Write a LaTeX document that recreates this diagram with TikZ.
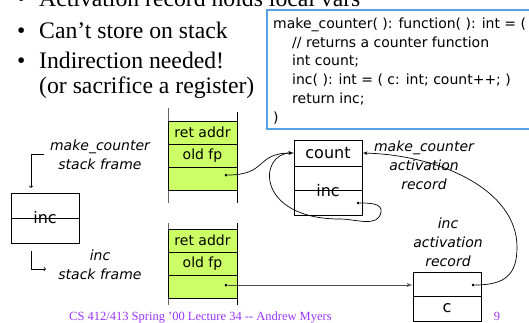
\documentclass[tikz,border=0pt]{standalone}
\usepackage{fontspec}
\setmainfont{Liberation Serif}
\setsansfont{DejaVu Sans}
\usepackage{tikz}
\usetikzlibrary{calc, shapes, arrows}
\definecolor{framegreen}{RGB}{204,255,102}
\definecolor{codeblue}{RGB}{85,160,230}
\definecolor{footpurple}{RGB}{153,51,255}

\begin{document}
\begin{tikzpicture}[x=1pt,y=-1pt]
\tikzstyle{line} = [draw, -latex', line width=0.7pt]
\tikzstyle{elbow} = [draw, ->, line width=0.7pt]
\tikzstyle{cell} = [rectangle, draw, line width=0.8pt, fill=framegreen, minimum width=69pt, minimum height=23pt, inner sep=0pt, font=\sffamily\fontsize{14}{16}\selectfont]
\tikzstyle{record} = [rectangle, draw, line width=0.8pt, fill=white, minimum width=68pt, inner sep=0pt, font=\sffamily\fontsize{16}{18}\selectfont]
\tikzstyle{tag} = [align=center, inner sep=0pt, font=\sffamily\itshape\fontsize{14}{19}\selectfont]
\tikzstyle{ptr} = [circle, fill, inner sep=0pt, minimum size=3pt]
\tikzstyle{bullet} = [anchor=base west, inner sep=0pt, font=\fontsize{23.7}{25}\selectfont]
\tikzstyle{foot} = [anchor=base west, inner sep=0pt, text=footpurple, font=\fontsize{12.5}{14}\selectfont]
\useasboundingbox (0,0) rectangle (529,322);
% bullet points
\node[bullet] (b_0) at (17,6) {\textbullet};
\node[bullet] (t_0) at (39,6) {Activation record holds local vars};
\node[bullet] (b_1) at (17,38) {\textbullet};
\node[bullet] (t_1) at (39,38) {Can't store on stack};
\node[bullet] (b_2) at (17,68) {\textbullet};
\node[bullet] (t_2) at (39,68) {Indirection needed!};
\node[bullet] (t_3) at (39,93) {(or sacrifice a register)};
% code
\draw[codeblue, line width=1.2pt] (267,10) rectangle (540,129);
\node[anchor=north west, align=left, inner sep=0pt, font=\sffamily\fontsize{14}{18.8}\selectfont] (code) at (273,17.5)
{make\_counter( ): function( ): int = (\\
\hspace*{19pt}// returns a counter function\\
\hspace*{19pt}int count;\\
\hspace*{19pt}inc( ): int = ( c: int; count++; )\\
\hspace*{19pt}return inc;\\
)};
% stack frames
\draw[black!60, line width=0.8pt] (168,108) -- (168,203);
\draw[line width=0.8pt] (237,112) -- (237,203);
\node[cell] (U_1) at (202.5,132.5) {ret addr};
\node[cell] (U_2) at (202.5,155.5) {old fp};
\node[cell] (U_3) at (202.5,178.5) {};
\node[ptr] (d_up) at (226,175) {};
\draw[black!60, line width=0.8pt] (168,223) -- (168,305);
\draw[line width=0.8pt] (237,223) -- (237,305);
\node[cell] (V_1) at (202.5,240.5) {ret addr};
\node[cell] (V_2) at (202.5,263.5) {old fp};
\node[cell] (V_3) at (202.5,286.5) {};
\node[ptr] (d_low) at (226,285) {};
% activation records
\node[record, minimum height=26pt] (R_1) at (328,153) {count};
\node[record, minimum height=49pt] (R_2) at (328,190.5) {inc};
\draw[line width=0.8pt] (R_2.west) -- (R_2.east);
\node[ptr] (d_inc) at (358,203) {};
\node[record, minimum height=24pt] (A_1) at (447,284) {};
\node[record, minimum height=25pt] (A_2) at (447,308.5) {c};
\node[ptr] (d_rec) at (473,285) {};
\node[record, minimum height=50pt] (L_1) at (45,218) {inc};
\draw[line width=0.8pt] (L_1.west) -- (L_1.east);
% labels
\node[tag] (s_1) at (100,154.5) {make\_counter\\stack frame};
\node[tag] (s_2) at (100,264.5) {inc\\stack frame};
\node[tag] (a_1) at (424,165) {make\_counter\\activation\\record};
\node[tag] (a_2) at (448,242) {inc\\activation\\record};
\coordinate (k_1) at (44,154);
\coordinate (k_2) at (31,188);
\coordinate (k_3) at (31,251);
\coordinate (k_4) at (46,269);
\path [elbow] (k_1) -| (k_2);
\path [elbow] (k_3) |- (k_4);
% pointers
\path [line] (d_up) .. controls (268,175) and (255,153) .. (R_1.west);
\path [line] (d_inc) to[out=0,in=80] (381,212) to[out=-100,in=0] (340,219) .. controls (255,219) and (258,153) .. (R_1.west);
\path [line] (d_rec) .. controls (505,285) and (517,275) .. (517,247) .. controls (517,190) and (440,155) .. (R_1.east);
\path [line, draw=black!70, line width=1pt] (d_low) -- (d_low -| A_1.west);
% footer
\node[foot] (f_1) at (69,320) {CS 412/413 Spring '00 Lecture 34 -{}- Andrew Myers};
\node[foot, anchor=base] (f_2) at (497,320) {9};
\end{tikzpicture}
\end{document}
